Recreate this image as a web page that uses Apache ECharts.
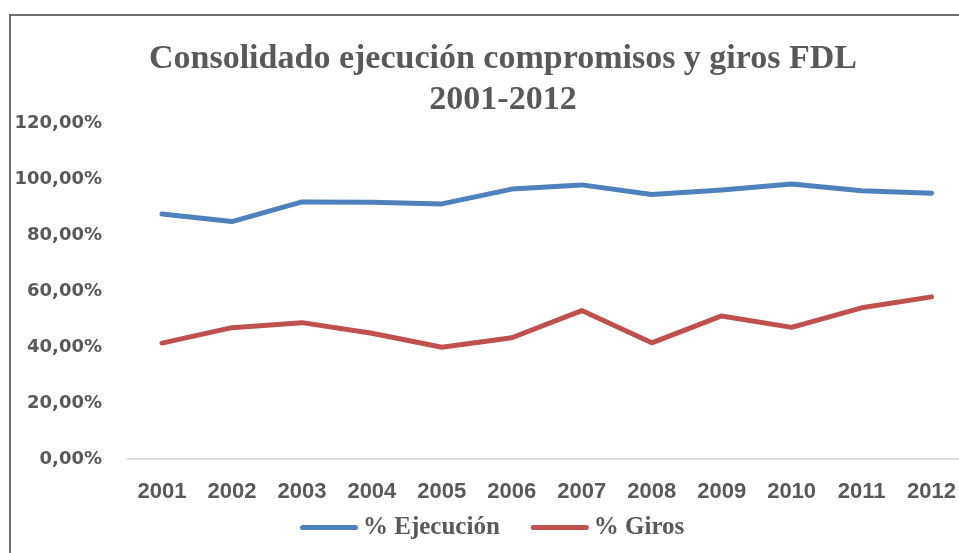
<!DOCTYPE html>
<html>
<head>
<meta charset="utf-8">
<script src="https://cdn.jsdelivr.net/npm/echarts@6/dist/echarts.min.js"></script>
<style>html,body{margin:0;padding:0;background:#fff;}#c{width:959px;height:553px;}</style>
</head>
<body>
<div id="c"></div>
<script>
var titleText = 'Consolidado ejecución compromisos y giros FDL\n2001-2012';
var years = ['2001','2002','2003','2004','2005','2006','2007','2008','2009','2010','2011','2012'];
var ejecucion = [87.5, 84.8, 91.8, 91.7, 91.1, 96.4, 97.9, 94.5, 96.1, 98.2, 95.8, 94.9];
var giros = [41.4, 46.9, 48.7, 44.9, 39.9, 43.3, 53.0, 41.5, 51.1, 47.0, 54.0, 57.9];
var seriesNames = ['% Ejecución', '% Giros'];

var chart = echarts.init(document.getElementById('c'), null, {renderer: 'canvas'});
var legendIcon = 'path://M2.5,0 L55.5,0 A2.5,2.5,0,0,1,55.5,5 L2.5,5 A2.5,2.5,0,0,1,2.5,0 Z';
var yLabelFmt = function (v) { return v.toFixed(2).replace('.', ',') + '%'; };
chart.setOption({
  animation: false,
  backgroundColor: '#ffffff',
  graphic: [{
    type: 'rect',
    shape: {x: 10, y: 15, width: 1000, height: 600},
    style: {fill: 'none', stroke: '#6e6e6e', lineWidth: 2},
    silent: true, z: -1
  }],
  title: {
    text: titleText,
    left: 498,
    top: 34,
    textAlign: 'center',
    textStyle: {
      fontFamily: 'Liberation Serif',
      fontWeight: 'bold',
      fontSize: 34,
      lineHeight: 41,
      color: '#595959'
    }
  },
  legend: {
    data: seriesNames,
    left: 295,
    top: 510,
    itemWidth: 58,
    itemHeight: 5,
    itemGap: 31,
    icon: legendIcon,
    textStyle: {
      fontFamily: 'Liberation Serif',
      fontWeight: 'bold',
      fontSize: 25,
      color: '#595959'
    }
  },
  grid: [
    {left: 162, top: 123, right: 27, height: 336},
    {left: 127, top: 123, right: 0, height: 336}
  ],
  xAxis: [{
    type: 'category',
    gridIndex: 0,
    data: years,
    boundaryGap: false,
    axisLine: {show: false},
    axisTick: {show: false},
    axisLabel: {
      margin: 22,
      fontFamily: 'Liberation Sans',
      fontWeight: 'bold',
      fontSize: 22,
      color: '#595959'
    }
  }, {
    type: 'value',
    gridIndex: 1,
    min: 0, max: 1,
    axisLine: {show: true, onZero: false, lineStyle: {color: '#d9d9d9', width: 1.5}},
    axisTick: {show: false},
    axisLabel: {show: false},
    splitLine: {show: false}
  }],
  yAxis: [{
    type: 'value',
    gridIndex: 0,
    min: 0, max: 120, interval: 20,
    axisLine: {show: false},
    axisTick: {show: false},
    splitLine: {show: false},
    axisLabel: {
      margin: 60,
      fontFamily: 'DejaVu Sans',
      fontWeight: 'bold',
      fontSize: 18,
      color: '#595959',
      formatter: yLabelFmt
    }
  }, {
    type: 'value',
    gridIndex: 1,
    min: 0, max: 120, interval: 20,
    show: false
  }],
  series: [{
    name: seriesNames[0],
    type: 'line',
    xAxisIndex: 0, yAxisIndex: 0,
    data: ejecucion,
    symbol: 'none',
    color: '#4F81BD',
    z: 3,
    lineStyle: {width: 5, color: '#4F81BD', cap: 'round', join: 'round'}
  }, {
    name: seriesNames[1],
    type: 'line',
    xAxisIndex: 0, yAxisIndex: 0,
    data: giros,
    symbol: 'none',
    color: '#C0504D',
    z: 3,
    lineStyle: {width: 5, color: '#C0504D', cap: 'round', join: 'round'}
  }]
});
</script>
</body>
</html>
